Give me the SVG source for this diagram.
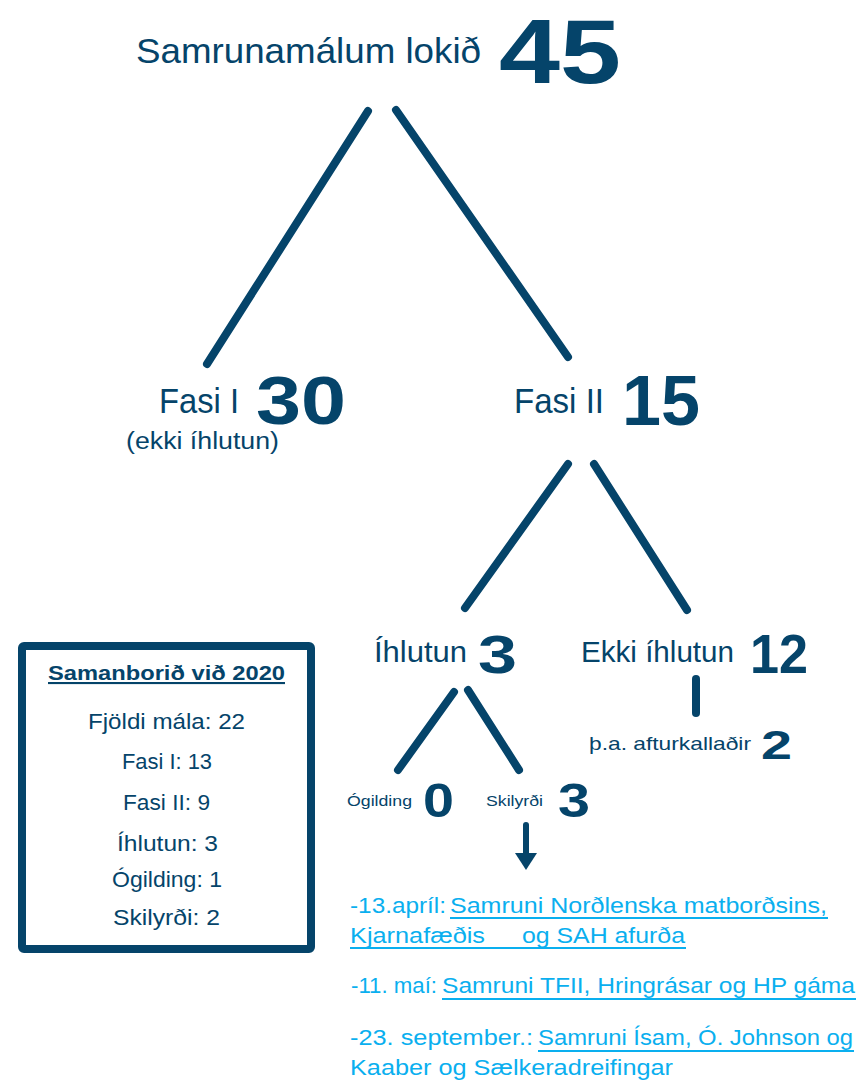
<svg xmlns="http://www.w3.org/2000/svg" width="858" height="1080" viewBox="0 0 858 1080">
<style>
  .t { font-family: "Liberation Sans", Arial, sans-serif; fill: #05446A; }
  .b { font-family: "Liberation Sans", Arial, sans-serif; fill: #05446A; font-weight: bold; }
  .lnk { font-family: "Liberation Sans", Arial, sans-serif; fill: #0AAFEF; font-size: 22px; }
  .ul { stroke: #0AAFEF; stroke-width: 2; }
  .edge { stroke: #05446A; stroke-width: 8; stroke-linecap: round; fill: none; }
</style>
<rect width="858" height="1080" fill="#ffffff"/>

<g id="connectors">
  <line class="edge" x1="368" y1="111" x2="207" y2="364"/>
  <line class="edge" x1="396" y1="110" x2="568" y2="357"/>
  <line class="edge" x1="568" y1="464" x2="465" y2="608"/>
  <line class="edge" x1="594" y1="464" x2="687" y2="610"/>
  <line class="edge" x1="454" y1="692" x2="398" y2="770"/>
  <line class="edge" x1="468" y1="690" x2="519" y2="770"/>
  <line class="edge" x1="696" y1="679" x2="696" y2="713"/>
  <line x1="526" y1="825" x2="526" y2="853" stroke="#05446A" stroke-width="6" stroke-linecap="round"/>
  <path d="M515,853 L537,853 L526,870 Z" fill="#05446A"/>
</g>

<g id="root">
  <text class="t" x="136" y="63" font-size="35" textLength="345" lengthAdjust="spacingAndGlyphs">Samrunamálum lokið</text>
  <text class="b" x="499" y="83" font-size="91" textLength="122" lengthAdjust="spacingAndGlyphs">45</text>
</g>

<g id="fasi1">
  <text class="t" x="159" y="413" font-size="35" textLength="80" lengthAdjust="spacingAndGlyphs">Fasi I</text>
  <text class="b" x="256" y="424" font-size="68" textLength="90" lengthAdjust="spacingAndGlyphs">30</text>
  <text class="t" x="126" y="449" font-size="23" textLength="153" lengthAdjust="spacingAndGlyphs">(ekki íhlutun)</text>
</g>

<g id="fasi2">
  <text class="t" x="514" y="413" font-size="35" textLength="90" lengthAdjust="spacingAndGlyphs">Fasi II</text>
  <text class="b" x="622" y="425" font-size="71" textLength="78" lengthAdjust="spacingAndGlyphs">15</text>
</g>

<g id="ihlutun">
  <text class="t" x="374" y="662" font-size="30" textLength="93" lengthAdjust="spacingAndGlyphs">Íhlutun</text>
  <text class="b" x="478" y="673" font-size="54" textLength="39" lengthAdjust="spacingAndGlyphs">3</text>
</g>

<g id="ekki-ihlutun">
  <text class="t" x="581" y="662" font-size="30" textLength="153" lengthAdjust="spacingAndGlyphs">Ekki íhlutun</text>
  <text class="b" x="750" y="673" font-size="56" textLength="58" lengthAdjust="spacingAndGlyphs">12</text>
</g>

<g id="afturkalladir">
  <text class="t" x="589" y="750" font-size="19" textLength="162" lengthAdjust="spacingAndGlyphs">þ.a. afturkallaðir</text>
  <text class="b" x="761" y="759" font-size="41" textLength="31" lengthAdjust="spacingAndGlyphs">2</text>
</g>

<g id="ogilding">
  <text class="t" x="347" y="806" font-size="15" textLength="65" lengthAdjust="spacingAndGlyphs">Ógilding</text>
  <text class="b" x="423" y="817" font-size="49" textLength="31" lengthAdjust="spacingAndGlyphs">0</text>
</g>

<g id="skilyrdi">
  <text class="t" x="486" y="806" font-size="15" textLength="57" lengthAdjust="spacingAndGlyphs">Skilyrði</text>
  <text class="b" x="558" y="817" font-size="49" textLength="32" lengthAdjust="spacingAndGlyphs">3</text>
</g>

<g id="samanburdur">
  <rect x="22" y="646" width="289" height="303" rx="2" fill="none" stroke="#05446A" stroke-width="8"/>
  <text class="b" x="48" y="680" font-size="21" textLength="237" lengthAdjust="spacingAndGlyphs" text-decoration="underline">Samanborið við 2020</text>
  <text class="t" x="88" y="729" font-size="22" textLength="157" lengthAdjust="spacingAndGlyphs">Fjöldi mála: 22</text>
  <text class="t" x="122" y="769" font-size="22" textLength="90" lengthAdjust="spacingAndGlyphs">Fasi I: 13</text>
  <text class="t" x="123" y="810" font-size="22" textLength="87" lengthAdjust="spacingAndGlyphs">Fasi II: 9</text>
  <text class="t" x="117" y="851" font-size="22" textLength="101" lengthAdjust="spacingAndGlyphs">Íhlutun: 3</text>
  <text class="t" x="112" y="887" font-size="22" textLength="110" lengthAdjust="spacingAndGlyphs">Ógilding: 1</text>
  <text class="t" x="113" y="925" font-size="22" textLength="107" lengthAdjust="spacingAndGlyphs">Skilyrði: 2</text>
</g>

<g id="tenglar">
  <text class="lnk" x="350" y="913" textLength="96" lengthAdjust="spacingAndGlyphs">-13.apríl:</text>
  <text class="lnk" x="450" y="913" textLength="377" lengthAdjust="spacingAndGlyphs">Samruni Norðlenska matborðsins,</text>
  <line class="ul" x1="450" y1="918" x2="828" y2="918"/>
  <text class="lnk" x="350" y="943" textLength="135" lengthAdjust="spacingAndGlyphs">Kjarnafæðis</text>
  <text class="lnk" x="522" y="943" textLength="163" lengthAdjust="spacingAndGlyphs">og SAH afurða</text>
  <line class="ul" x1="350" y1="948" x2="686" y2="948"/>
  <text class="lnk" x="351" y="993" textLength="86" lengthAdjust="spacingAndGlyphs">-11. maí:</text>
  <text class="lnk" x="442" y="993" textLength="413" lengthAdjust="spacingAndGlyphs">Samruni TFII, Hringrásar og HP gáma</text>
  <line class="ul" x1="442" y1="999" x2="856" y2="999"/>
  <text class="lnk" x="350" y="1045" textLength="183" lengthAdjust="spacingAndGlyphs">-23. september.:</text>
  <text class="lnk" x="538" y="1045" textLength="315" lengthAdjust="spacingAndGlyphs">Samruni Ísam, Ó. Johnson og</text>
  <line class="ul" x1="538" y1="1051" x2="854" y2="1051"/>
  <text class="lnk" x="350" y="1075" textLength="323" lengthAdjust="spacingAndGlyphs">Kaaber og Sælkeradreifingar</text>
</g>
</svg>
